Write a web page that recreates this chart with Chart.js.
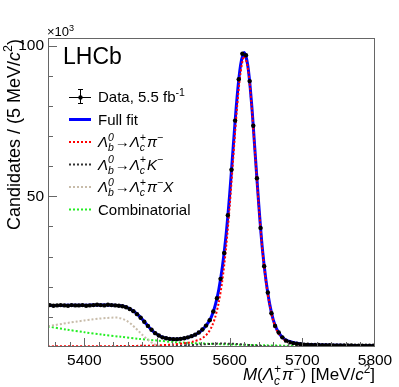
<!DOCTYPE html>
<html>
<head>
<meta charset="utf-8">
<script src="https://cdn.jsdelivr.net/npm/chart.js@4"></script>
<style>
  body { margin: 0; background: #fff; }
  canvas { display: block; }
</style>
</head>
<body>
<canvas id="c" width="399" height="387"></canvas>
<script>
// values in units of 10^3 candidates per 5 MeV/c^2
const binLow = 5350, binWidth = 5;
const dataCounts = [
  13.9, 13.7, 13.8, 13.9, 13.8, 13.7, 13.9, 13.8, 13.8, 13.9,
  13.7, 13.8, 13.9, 14.0, 13.9, 13.8, 14.0, 13.9, 13.8, 13.7,
  13.5, 13.2, 12.6, 11.9, 10.9, 9.7, 8.4, 7.0, 5.7, 4.6,
  3.8, 3.2, 2.9, 2.7, 2.6, 2.6, 2.7, 2.9, 3.2, 3.6,
  4.1, 4.8, 5.8, 7.1, 8.9, 11.8, 16.2, 22.6, 31.2, 43.7,
  58.8, 75.1, 88.8, 97.3, 96.8, 88.2, 73.4, 56.0, 39.5, 26.8,
  18.1, 11.2, 7.0, 4.8, 3.2, 2.1, 1.6, 1.3, 1.1, 0.9,
  0.8, 0.75, 0.7, 0.7, 0.65, 0.6, 0.6, 0.6, 0.55, 0.55,
  0.5, 0.5, 0.5, 0.5, 0.45, 0.45, 0.45, 0.4, 0.45, 0.4
];

const fitMass = [5350, 5360, 5370, 5380, 5390, 5400, 5410, 5420, 5430, 5440,
  5450, 5455, 5460, 5465, 5470, 5475, 5480, 5485, 5490, 5495,
  5500, 5505, 5510, 5515, 5520, 5525, 5530, 5535, 5540, 5545,
  5550, 5555, 5560, 5565, 5570, 5575, 5580, 5585, 5590, 5595,
  5600, 5605, 5610, 5615, 5620, 5625, 5630, 5635, 5640, 5645,
  5650, 5655, 5660, 5665, 5670, 5675, 5680, 5690, 5700, 5710,
  5720, 5740, 5760, 5780, 5800];
const fitVals = [13.8, 13.8, 13.8, 13.85, 13.85, 13.85, 13.9, 13.9, 13.9, 13.85,
  13.7, 13.45, 13.0, 12.3, 11.5, 10.4, 9.1, 7.7, 6.3, 5.1,
  4.2, 3.5, 3.05, 2.8, 2.65, 2.6, 2.65, 2.8, 3.0, 3.35,
  3.8, 4.4, 5.2, 6.4, 7.9, 10.1, 13.7, 19.0, 26.6, 37.0,
  50.6, 66.8, 82.3, 93.5, 97.7, 93.3, 81.2, 64.5, 47.4, 32.6,
  22.0, 14.3, 9.0, 5.8, 3.9, 2.7, 2.0, 1.3, 0.95, 0.8,
  0.7, 0.6, 0.5, 0.45, 0.4];

const sigMass = [5350, 5400, 5450, 5480, 5500, 5520, 5540, 5550, 5560, 5565,
  5570, 5575, 5580, 5585, 5590, 5595, 5600, 5605, 5610, 5615,
  5620, 5625, 5630, 5635, 5640, 5645, 5650, 5655, 5660, 5665,
  5670, 5675, 5680, 5690, 5700, 5720, 5750, 5800];
const sigVals = [0.2, 0.25, 0.3, 0.4, 0.5, 0.8, 1.3, 1.8, 2.6, 3.4,
  4.6, 6.6, 9.8, 14.8, 22.2, 32.8, 46.6, 63.0, 79.0, 91.0,
  96.5, 92.6, 80.6, 64.0, 47.0, 32.2, 21.6, 14.0, 8.7, 5.5,
  3.6, 2.4, 1.7, 1.0, 0.7, 0.5, 0.35, 0.25];

const kMass = [5350, 5450, 5500, 5520, 5540, 5560, 5580, 5590, 5600, 5610,
  5620, 5630, 5640, 5650, 5670, 5700, 5800];
const kVals = [0.02, 0.05, 0.15, 0.3, 0.55, 0.85, 1.1, 1.15, 1.1, 1.0,
  0.8, 0.6, 0.4, 0.25, 0.1, 0.05, 0.02];

const partMass = [5350, 5360, 5370, 5380, 5390, 5400, 5410, 5420, 5430, 5440,
  5445, 5450, 5455, 5460, 5465, 5470, 5475, 5480, 5485, 5490,
  5495, 5500, 5505, 5510, 5520];
const partVals = [6.9, 7.3, 7.7, 8.1, 8.45, 8.8, 9.1, 9.4, 9.6, 9.75,
  9.75, 9.5, 9.1, 8.4, 7.5, 6.4, 5.2, 4.0, 2.9, 1.9,
  1.1, 0.55, 0.2, 0.05, 0.0];

const combMass = [5350, 5375, 5400, 5425, 5450, 5475, 5500, 5525, 5550, 5575,
  5600, 5625, 5650, 5675, 5700, 5750, 5800];
const combVals = [6.8, 5.8, 4.9, 4.1, 3.4, 2.7, 2.15, 1.6, 1.3, 1.05,
  0.85, 0.7, 0.55, 0.45, 0.38, 0.28, 0.2];

const xTickLabels = [5400, 5500, 5600, 5700, 5800];
const yTickLabels = [50, 100];

const FONT = '"Liberation Sans", Arial, Helvetica, sans-serif';
const pts = (xs, ys) => xs.map((x, i) => ({ x: x, y: ys[i] }));
const binCenters = dataCounts.map((_, i) => binLow + binWidth * (i + 0.5));

function fnt(sz, it) { return (it ? 'italic ' : '') + sz + 'px ' + FONT; }

// rich text: parts with it (italic), up (sup), dn (sub), s: [sup, sub] stacked
function richText(ctx, parts, x, y, sz, dry) {
  let cx = x;
  for (const p of parts) {
    if (p.s) {
      ctx.font = fnt(sz * 0.7, p.it);
      const w = Math.max(ctx.measureText(p.s[0]).width, ctx.measureText(p.s[1]).width);
      if (!dry) {
        ctx.fillText(p.s[0], cx, y - sz * 0.42);
        ctx.fillText(p.s[1], cx, y + sz * 0.27);
      }
      cx += w + 1;
    } else {
      const small = p.up || p.dn;
      ctx.font = fnt(small ? sz * 0.7 : sz, p.it);
      const dy = p.up ? -sz * 0.42 : p.dn ? sz * 0.27 : 0;
      if (!dry) ctx.fillText(p.t, cx, y + dy);
      cx += ctx.measureText(p.t).width;
    }
  }
  return cx - x;
}

const lb = [{ t: 'Λ', it: 1 }, { s: ['0', 'b'], it: 1 }, { t: '→' }, { t: 'Λ', it: 1 }, { s: ['+', 'c'], it: 1 }];
const legendRows = [
  { kind: 'data', parts: [{ t: 'Data, 5.5 fb' }, { t: '-1', up: 1 }] },
  { kind: 'line', color: '#0000ff', dash: [], w: 3, parts: [{ t: 'Full fit' }] },
  { kind: 'line', color: '#ff0000', dash: [2, 2], w: 2, parts: lb.concat([{ t: 'π', it: 1 }, { t: '−', up: 1 }]) },
  { kind: 'line', color: '#333333', dash: [2, 2], w: 2, parts: lb.concat([{ t: 'K', it: 1 }, { t: '−', up: 1 }]) },
  { kind: 'line', color: '#c8bcaa', dash: [2, 2], w: 2, parts: lb.concat([{ t: 'π', it: 1 }, { t: '−', up: 1 }, { t: 'X', it: 1 }]) },
  { kind: 'line', color: '#22ee22', dash: [2, 2], w: 2, parts: [{ t: 'Combinatorial' }] }
];

const decorations = {
  id: 'decorations',
  afterDatasetsDraw(chart) {
    const ctx = chart.ctx;
    const xs = chart.scales.x, ys = chart.scales.y;
    ctx.save();
    // bin-width bars on data points
    ctx.strokeStyle = '#000';
    ctx.lineWidth = 1;
    ctx.beginPath();
    dataCounts.forEach((v, i) => {
      const y = ys.getPixelForValue(v);
      ctx.moveTo(xs.getPixelForValue(binCenters[i] - binWidth / 2), y);
      ctx.lineTo(xs.getPixelForValue(binCenters[i] + binWidth / 2), y);
    });
    ctx.stroke();
    ctx.restore();
  },
  afterDraw(chart) {
    const ctx = chart.ctx;
    const xs = chart.scales.x, ys = chart.scales.y;
    const a = chart.chartArea;
    ctx.save();
    // frame
    ctx.strokeStyle = '#666';
    ctx.lineWidth = 1;
    ctx.strokeRect(Math.round(a.left) + 0.5, Math.round(a.top) + 0.5,
      Math.round(a.right - a.left) - 1, Math.round(a.bottom - a.top) - 1);
    // ticks
    ctx.beginPath();
    for (let m = 5360; m < 5800; m += 20) {
      const x = Math.round(xs.getPixelForValue(m)) + 0.5;
      const len = m % 100 === 0 ? 9 : 5;
      ctx.moveTo(x, a.bottom); ctx.lineTo(x, a.bottom - len);
    }
    for (let v = 10; v <= 100; v += 10) {
      const y = Math.round(ys.getPixelForValue(v)) + 0.5;
      const len = v % 50 === 0 ? 9 : 5;
      ctx.moveTo(a.left, y); ctx.lineTo(a.left + len, y);
    }
    ctx.stroke();

    ctx.fillStyle = '#000';
    ctx.textBaseline = 'alphabetic';
    ctx.textAlign = 'left';
    // x10^3
    richText(ctx, [{ t: '×10' }, { t: '3', up: 1 }], a.left - 1, 36, 13);
    // LHCb
    ctx.font = fnt(23, false);
    ctx.fillText('LHCb', 63, 64);

    // legend
    const lx0 = 69, lx1 = 91, tx = 98;
    legendRows.forEach((r, i) => {
      const cy = 97 + i * 22.5;
      ctx.save();
      if (r.kind === 'data') {
        ctx.strokeStyle = '#000'; ctx.lineWidth = 1;
        ctx.beginPath();
        ctx.moveTo(lx0, cy + 0.5); ctx.lineTo(lx1, cy + 0.5);
        ctx.moveTo(80.5, cy - 8); ctx.lineTo(80.5, cy + 7);
        ctx.moveTo(78, cy - 8 + 0.5); ctx.lineTo(83, cy - 8 + 0.5);
        ctx.moveTo(78, cy + 7 - 0.5); ctx.lineTo(83, cy + 7 - 0.5);
        ctx.stroke();
        ctx.beginPath(); ctx.arc(80.5, cy + 0.5, 2.2, 0, 2 * Math.PI); ctx.fill();
      } else {
        ctx.strokeStyle = r.color; ctx.lineWidth = r.w; ctx.setLineDash(r.dash);
        ctx.beginPath(); ctx.moveTo(lx0, cy); ctx.lineTo(lx1, cy); ctx.stroke();
      }
      ctx.restore();
      richText(ctx, r.parts, tx, cy + 5, 15);
    });

    // x title
    const xt = [{ t: 'M', it: 1 }, { t: '(' }, { t: 'Λ', it: 1 }, { s: ['+', 'c'], it: 1 },
      { t: 'π', it: 1 }, { t: '−', up: 1 }, { t: ') [MeV/' }, { t: 'c', it: 1 }, { t: '2', up: 1 }, { t: ']' }];
    const wx = richText(ctx, xt, 0, 0, 17, true);
    richText(ctx, xt, a.right - wx, 380, 17);

    // y title
    const yt = [{ t: 'Candidates / (5 MeV/' }, { t: 'c', it: 1 }, { t: '2', up: 1 }, { t: ')' }];
    const wy = richText(ctx, yt, 0, 0, 18, true);
    ctx.translate(20, a.top + 1 + wy);
    ctx.rotate(-Math.PI / 2);
    richText(ctx, yt, 0, 0, 18);
    ctx.restore();
  }
};

const dotted = (label, xs, ys, color, order) => ({
  label: label, data: pts(xs, ys), borderColor: color, borderWidth: 2,
  borderDash: [2, 2], pointRadius: 0, fill: false, tension: 0.3, order: order
});

new Chart(document.getElementById('c'), {
  type: 'line',
  data: {
    datasets: [
      { label: 'Data', data: pts(binCenters, dataCounts), showLine: false,
        pointRadius: 2.2, pointBackgroundColor: '#000', pointBorderWidth: 0, order: 0 },
      dotted('Λb→Λcπ', sigMass, sigVals, '#ff0000', 1),
      { label: 'Full fit', data: pts(fitMass, fitVals), borderColor: '#0000ff', borderWidth: 3,
        pointRadius: 0, fill: false, tension: 0.3, order: 2 },
      dotted('Λb→ΛcK', kMass, kVals, '#333333', 3),
      dotted('Λb→ΛcπX', partMass, partVals, '#c8bcaa', 4),
      dotted('Combinatorial', combMass, combVals, '#22ee22', 5)
    ]
  },
  options: {
    responsive: false,
    animation: false,
    events: [],
    layout: { padding: { left: 0, top: 38, right: 24, bottom: 0 } },
    plugins: { legend: { display: false }, tooltip: { enabled: false } },
    scales: {
      x: {
        type: 'linear', min: 5350, max: 5800,
        afterFit: (s) => { s.height = 40; },
        afterBuildTicks: (s) => { s.ticks = xTickLabels.map(v => ({ value: v })); },
        grid: { display: false, drawTicks: false },
        border: { display: false },
        ticks: { color: '#000', font: { size: 15.5, family: FONT }, padding: 4, maxRotation: 0,
          callback: (v) => String(v) }
      },
      y: {
        type: 'linear', min: 0, max: 102.5,
        afterFit: (s) => { s.width = 48; },
        afterBuildTicks: (s) => { s.ticks = yTickLabels.map(v => ({ value: v })); },
        grid: { display: false, drawTicks: false },
        border: { display: false },
        ticks: { color: '#000', font: { size: 15.5, family: FONT }, padding: 4,
          callback: (v) => String(v) }
      }
    }
  },
  plugins: [decorations]
});
</script>
</body>
</html>
